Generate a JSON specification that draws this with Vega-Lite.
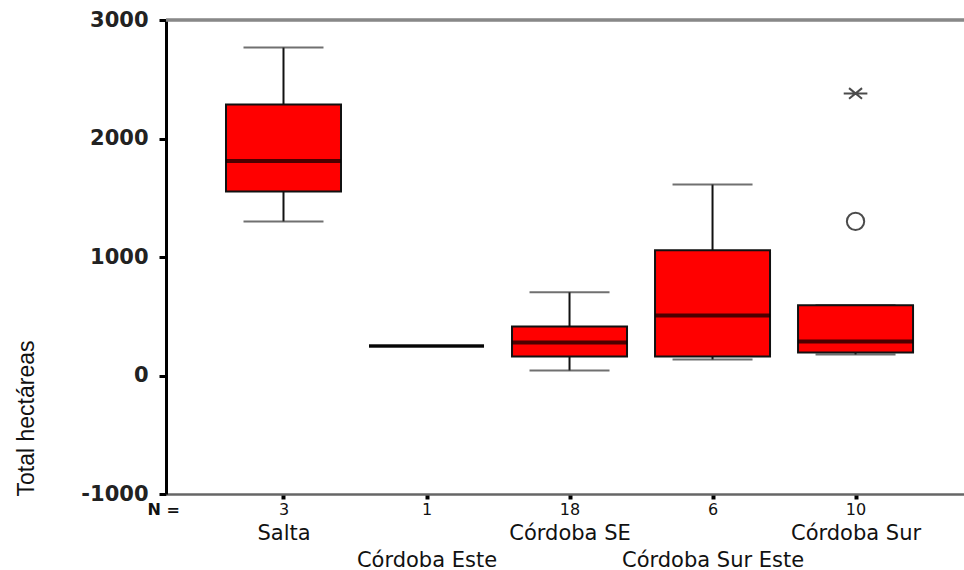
{
  "$schema": "https://vega.github.io/schema/vega-lite/v6.json",
  "width": 798,
  "height": 474,
  "autosize": {"type": "none"},
  "padding": {"left": 166, "top": 20, "right": 0, "bottom": 76},
  "background": "white",
  "config": {"view": {"stroke": null}, "font": "Liberation Sans"},
  "datasets": {
    "boxes": [
      {"region": "Salta", "n": 3, "lo": 1300, "q1": 1553, "med": 1810, "q3": 2287, "hi": 2768},
      {"region": "Córdoba Este", "n": 1, "lo": 250, "q1": 250, "med": 250, "q3": 250, "hi": 250},
      {"region": "Córdoba SE", "n": 18, "lo": 42, "q1": 160, "med": 278, "q3": 413, "hi": 703},
      {"region": "Córdoba Sur Este", "n": 6, "lo": 135, "q1": 160, "med": 506, "q3": 1057, "hi": 1612},
      {"region": "Córdoba Sur", "n": 10, "lo": 177, "q1": 194, "med": 287, "q3": 593, "hi": 593}
    ],
    "outliers": [
      {"region": "Córdoba Sur", "value": 1300, "kind": "outlier"},
      {"region": "Córdoba Sur", "value": 2380, "kind": "extreme"}
    ]
  },
  "data": {"name": "boxes"},
  "resolve": {"axis": {"x": "independent", "y": "independent"}},
  "layer": [
    {
      "mark": {"type": "rule", "color": "#888888", "strokeWidth": 2.5},
      "encoding": {
        "y": {"datum": 3000, "type": "quantitative",
              "scale": {"domain": [-1000, 3000], "nice": false, "zero": false},
              "axis": {"orient": "left", "title": "Total hectáreas", "values": [-1000, 0, 1000, 2000, 3000], "grid": false,
                       "labelExpr": "'' + datum.value",
                       "domainColor": "#000000", "domainWidth": 3, "tickColor": "#000000", "tickWidth": 3, "tickSize": 7,
                       "labelFont": "DejaVu Sans", "labelFontWeight": "bold", "labelFontSize": 21, "labelColor": "#222222", "labelPadding": 11,
                       "titleFont": "Liberation Sans", "titleFontSize": 23, "titleFontWeight": "normal", "titleColor": "#111111",
                       "titleAngle": 270, "titleX": -140, "titleY": 476, "titleAlign": "left", "titleBaseline": "middle"}}
      }
    },
    {
      "mark": {"type": "rule", "color": "#111111", "strokeWidth": 2},
      "encoding": {
        "x": {"field": "region", "type": "nominal", "axis": null,
              "scale": {"type": "point", "domain": ["Salta", "Córdoba Este", "Córdoba SE", "Córdoba Sur Este", "Córdoba Sur"], "padding": 0.79, "align": 0.52}},
        "y": {"field": "lo", "type": "quantitative", "axis": null},
        "y2": {"field": "q1"}
      }
    },
    {
      "mark": {"type": "rule", "color": "#111111", "strokeWidth": 2},
      "encoding": {
        "x": {"field": "region", "type": "nominal", "axis": null},
        "y": {"field": "q3", "type": "quantitative", "axis": null},
        "y2": {"field": "hi"}
      }
    },
    {
      "mark": {"type": "tick", "color": "#333333", "size": 80, "thickness": 2},
      "encoding": {
        "x": {"field": "region", "type": "nominal", "axis": null},
        "y": {"field": "lo", "type": "quantitative", "axis": null}
      }
    },
    {
      "mark": {"type": "tick", "color": "#333333", "size": 80, "thickness": 2},
      "encoding": {
        "x": {"field": "region", "type": "nominal", "axis": null},
        "y": {"field": "hi", "type": "quantitative", "axis": null}
      }
    },
    {
      "mark": {"type": "bar", "fill": "#ff0000", "stroke": "#111111", "strokeWidth": 2, "size": 115},
      "encoding": {
        "x": {"field": "region", "type": "nominal",
              "axis": {"orient": "bottom", "title": null, "domain": false, "ticks": false, "labelAngle": 0,
                       "labelExpr": "round(datum.index*4) % 2 == 1 ? ['', datum.label] : [datum.label]",
                       "labelFont": "DejaVu Sans", "labelFontSize": 21, "labelColor": "#111111",
                       "labelLineHeight": 27, "labelBaseline": "top", "labelPadding": 28,
                       "labelOverlap": false, "labelLimit": 400, "labelBound": false}},
        "y": {"field": "q1", "type": "quantitative", "axis": null},
        "y2": {"field": "q3"}
      }
    },
    {
      "mark": {"type": "tick", "color": "#000000", "size": 115, "thickness": 4},
      "encoding": {
        "x": {"field": "region", "type": "nominal",
              "axis": {"orient": "bottom", "title": "N =", "labelAngle": 0,
                       "labelExpr": "'' + pluck(data('boxes'), 'n')[indexof(pluck(data('boxes'), 'region'), datum.value)]",
                       "labelFont": "DejaVu Sans", "labelFontSize": 16, "labelColor": "#111111", "labelPadding": 2,
                       "tickSize": 5, "tickWidth": 4, "tickColor": "#000000",
                       "domainColor": "#666666", "domainWidth": 2.5,
                       "titleFont": "DejaVu Sans", "titleFontSize": 16, "titleFontWeight": "bold", "titleColor": "#111111",
                       "titleX": -19, "titleY": 15, "titleAlign": "left", "titleBaseline": "middle", "titleAngle": 0}},
        "y": {"field": "med", "type": "quantitative", "axis": null}
      }
    },
    {
      "data": {"name": "outliers"},
      "mark": {"type": "point", "filled": false, "stroke": "#000000", "strokeWidth": 2},
      "encoding": {
        "x": {"field": "region", "type": "nominal", "axis": null},
        "y": {"field": "value", "type": "quantitative", "axis": null},
        "shape": {"field": "kind", "type": "nominal", "legend": null,
                  "scale": {"domain": ["outlier", "extreme"], "range": ["circle", "M-1,0L1,0M-0.55,-0.45L0.55,0.45M-0.55,0.45L0.55,-0.45"]}},
        "size": {"field": "kind", "type": "nominal", "legend": null,
                 "scale": {"domain": ["outlier", "extreme"], "range": [300, 560]}}
      }
    }
  ]
}
